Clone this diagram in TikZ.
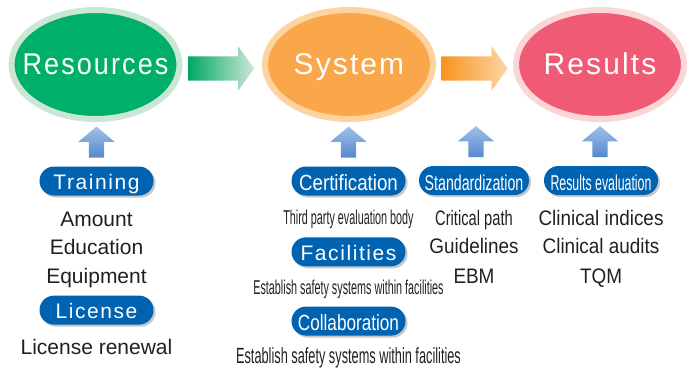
\documentclass[tikz,border=0pt]{standalone}
\usepackage{fontspec}
\setmainfont{Liberation Sans}
\newfontfamily\hubfont[LetterSpace=7]{Liberation Sans}
\newfontfamily\hubcond[FakeStretch=0.9,LetterSpace=7]{Liberation Sans}
\newfontfamily\pillwide[LetterSpace=7.5]{Liberation Sans}
\newfontfamily\pillmid[FakeStretch=0.85]{Liberation Sans}
\newfontfamily\pillcoll[FakeStretch=0.78]{Liberation Sans}
\newfontfamily\pillnarrow[FakeStretch=0.66]{Liberation Sans}
\newfontfamily\pillnarrower[FakeStretch=0.575]{Liberation Sans}
\newfontfamily\itemnarrow[FakeStretch=0.9]{Liberation Sans}
\newfontfamily\itemcond[FakeStretch=0.7]{Liberation Sans}
\newfontfamily\itemtight[FakeStretch=0.54]{Liberation Sans}
\newfontfamily\itemloose[FakeStretch=0.58]{Liberation Sans}
\usetikzlibrary{positioning,calc,shapes.geometric,shapes.arrows,shadows}
\definecolor{resfill}{RGB}{0,176,106}
\definecolor{resring}{RGB}{202,230,212}
\definecolor{sysfill}{RGB}{250,166,74}
\definecolor{sysring}{RGB}{253,211,160}
\definecolor{outfill}{RGB}{240,90,116}
\definecolor{outring}{RGB}{251,214,214}
\definecolor{pillblue}{RGB}{0,99,177}
\definecolor{feedtop}{RGB}{160,192,232}
\definecolor{feedbot}{RGB}{84,136,204}
\definecolor{ink}{RGB}{35,31,32}
\definecolor{gflowL}{RGB}{0,168,100}
\definecolor{gflowR}{RGB}{205,232,215}
\definecolor{oflowL}{RGB}{247,148,30}
\definecolor{oflowR}{RGB}{253,214,168}
\tikzset{
  hub/.style={ellipse, line width=6pt, minimum width=168pt, minimum height=109pt, inner sep=0pt},
  hubtext/.style={text=white, inner sep=0pt, text height=19.6pt, text depth=0pt, font=\hubfont\fontsize{30}{34}\selectfont},
  flow/.style={single arrow, minimum height=66pt, minimum width=44pt, single arrow head extend=10pt, single arrow tip angle=108, inner sep=12pt, anchor=tail},
  feed/.style={single arrow, shape border rotate=90, minimum height=31pt, minimum width=36pt, single arrow head extend=10.5pt, single arrow tip angle=100, inner sep=7.5pt, top color=feedtop, bottom color=feedbot, anchor=tail},
  pill/.style={rectangle, rounded corners=14.5pt, fill=pillblue, text=white, minimum width=114pt, minimum height=29pt, inner sep=0pt, text height=17pt, text depth=0pt, drop shadow={shadow xshift=2pt, shadow yshift=-2pt, fill=black!22, opacity=1}},
  tallpill/.style={pill, text height=19.5pt},
  item/.style={text=ink, inner sep=0pt, text height=15pt, text depth=4.5pt, font=\fontsize{21}{25}\selectfont},
  node distance=8.5pt
}
\begin{document}
\begin{tikzpicture}[x=1pt,y=-1pt]
\useasboundingbox (0,0) rectangle (687,367);
\node[hub, draw=resring, fill=resfill] (res) at (95.5,64.5) {};
\node[hub, draw=sysring, fill=sysfill] (sys) at (349,64.5) {};
\node[hub, draw=outring, fill=outfill] (out) at (600,64.5) {};
\node[hubtext, font=\hubcond\fontsize{30}{34}\selectfont] at (res) {Resources};
\node[hubtext] at (sys) {System};
\node[hubtext] at (out) {Results};
\node[flow, left color=gflowL, right color=gflowR] (f1) at ($(res.east)+(5.5,4)$) {};
\node[flow, left color=oflowL, right color=oflowR] (f2) at ($(sys.east)+(5.5,4)$) {};

\node[pill, font=\pillwide\fontsize{21}{25}\selectfont] (train) at (96.5,181) {Training};
\node[item, below=15.5pt of train] (amount) {Amount};
\node[item, below=of amount] (educ) {Education};
\node[item, below=of educ] (equip) {Equipment};
\node[pill, font=\pillwide\fontsize{21}{25}\selectfont, below=7.5pt of equip] (lic) {License};
\node[item, below=14pt of lic] (renew) {License renewal};

\node[tallpill, font=\pillmid\fontsize{22}{26}\selectfont] (cert) at (348.5,181) {Certification};
\node[item, font=\itemtight\fontsize{20}{24}\selectfont, below=13.5pt of cert] (third) {Third party evaluation body};
\node[pill, font=\pillwide\fontsize{21}{25}\selectfont, below=8pt of third] (fac) {Facilities};
\node[item, font=\itemtight\fontsize{20}{24}\selectfont, below=12.5pt of fac] (est1) {Establish safety systems within facilities};
\node[tallpill, font=\pillcoll\fontsize{22}{26}\selectfont, below=7.5pt of est1] (coll) {Collaboration};
\node[item, font=\itemloose\fontsize{22}{26}\selectfont, below=12pt of coll] (est2) {Establish safety systems within facilities};

\node[tallpill, minimum width=110pt, font=\pillnarrow\fontsize{21.5}{25}\selectfont] (stand) at (474,180.5) {Standardization};
\node[item, font=\itemcond\fontsize{21}{25}\selectfont, below=15pt of stand] (crit) {Critical path};
\node[item, font=\itemnarrow\fontsize{21}{25}\selectfont, below=of crit] (guide) {Guidelines};
\node[item, font=\itemnarrow\fontsize{21}{25}\selectfont, below=9.5pt of guide] (ebm) {EBM};

\node[tallpill, font=\pillnarrower\fontsize{21.5}{25}\selectfont] (reval) at (601,180.5) {Results evaluation};
\node[item, font=\itemnarrow\fontsize{21}{25}\selectfont, below=15pt of reval] (clin) {Clinical indices};
\node[item, font=\itemnarrow\fontsize{21}{25}\selectfont, below=of clin] (audit) {Clinical audits};
\node[item, font=\itemnarrow\fontsize{21}{25}\selectfont, below=9.5pt of audit] (tqm) {TQM};

\node[feed] (u1) at ($(train.north)+(0,-8.5)$) {};
\node[feed] (u2) at ($(cert.north)+(0,-8.5)$) {};
\node[feed] (u3) at ($(stand.north)+(2,-8.5)$) {};
\node[feed] (u4) at ($(reval.north)+(-1,-8.5)$) {};
\end{tikzpicture}
\end{document}
